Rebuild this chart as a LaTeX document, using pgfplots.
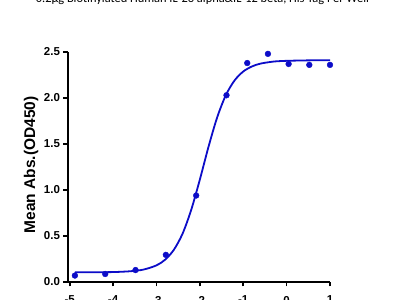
\documentclass[border=0pt]{standalone}
\usepackage{pgfplots}
\pgfplotsset{compat=1.18}
\usepackage{fontspec}
\setmainfont{Liberation Sans}
\newfontfamily\titlefont{Carlito}
\definecolor{cblue}{RGB}{12,12,200}
\begin{document}
\begin{tikzpicture}[x=1pt,y=1pt]
\useasboundingbox (0,0) rectangle (400,300);
\clip (0,0) rectangle (400,300);
\begin{axis}[
  at={(68pt,18pt)}, anchor=south west,
  scale only axis, width=262pt, height=230pt,
  xmin=-5.04, xmax=1, ymin=0, ymax=2.5,
  axis x line*=bottom, axis y line*=left,
  axis line style={line width=1.6pt, black},
  tick style={line width=1.6pt, black},
  tick align=outside, major tick length=4.5pt,
  xtick={-5,-4,-3,-2,-1,0,1},
  ytick={0,0.5,1,1.5,2,2.5},
  /pgf/number format/assume math mode=true,
  ticklabel style={font=\fontsize{11.5}{13}\selectfont\bfseries},
  yticklabel style={/pgf/number format/.cd, fixed, fixed zerofill, precision=1},
  xticklabel style={/pgf/number format/.cd, fixed, precision=0, /tikz/yshift=-6pt},
  ylabel={Mean Abs.(OD450)},
  ylabel style={at={(axis description cs:-0.141,0.509)}, anchor=center,
    font=\fontsize{15.5}{18}\selectfont\bfseries},
  title={0.2\textmu g Biotinylated Human IL-23 alpha\&IL-12 beta, His Tag Per Well},
  title style={at={(axis description cs:0.513,1.187)}, anchor=base,
    font=\titlefont\fontsize{12.4}{14}\selectfont},
  clip=false,
]
\addplot[cblue, line width=1.8pt, smooth, tension=0.5] coordinates {
  (-4.88,0.105) (-4.5,0.106) (-4.0,0.108) (-3.6,0.117) (-3.3,0.135)
  (-3.0,0.181) (-2.8,0.243) (-2.6,0.350) (-2.4,0.524) (-2.2,0.783)
  (-2.0,1.114) (-1.8,1.471) (-1.6,1.791) (-1.4,2.032) (-1.2,2.191)
  (-1.0,2.288) (-0.8,2.343) (-0.6,2.374) (-0.3,2.396) (0.0,2.404)
  (0.5,2.409) (1.0,2.41)
};
\addplot[only marks, mark=*, mark size=2.9pt, cblue] coordinates {
  (-4.881,0.070) (-4.182,0.087) (-3.483,0.130) (-2.784,0.295)
  (-2.085,0.940) (-1.386,2.030) (-0.908,2.380) (-0.431,2.480)
  (0.046,2.370) (0.523,2.360) (1.0,2.360)
};
\end{axis}
\end{tikzpicture}
\end{document}
